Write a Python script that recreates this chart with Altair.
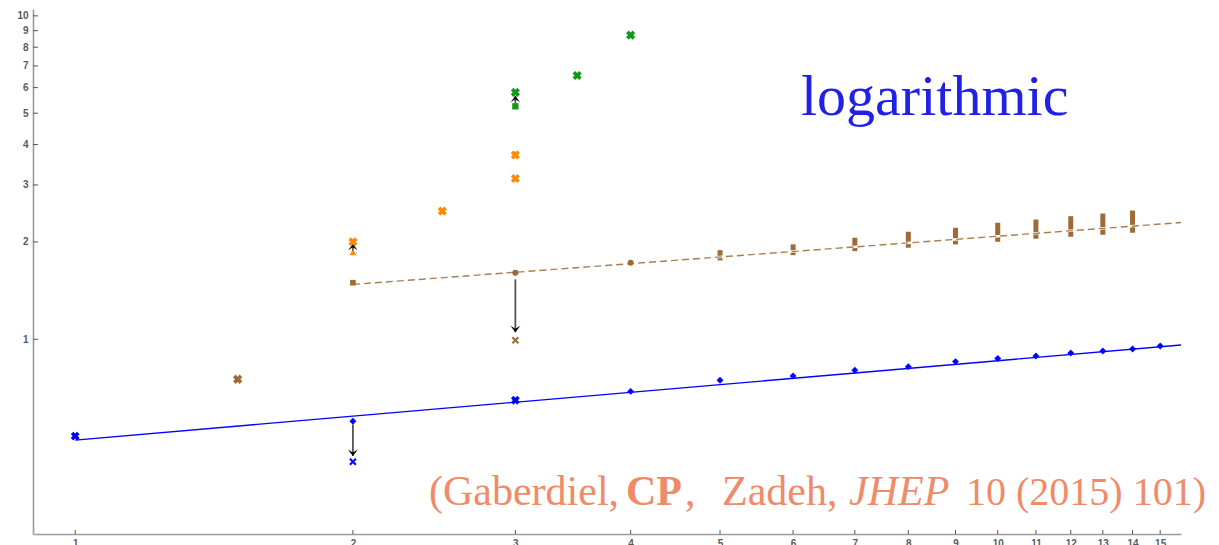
import altair as alt
import pandas as pd

# ---------------- data ----------------
# blue series
blue_line_x = [1, 15.8]
blue_line_y = [0.488, 0.960]
blue_dia_x = [2, 4, 5, 6, 7, 8, 9, 10, 11, 12, 13, 14, 15]
blue_dia_y = [0.558, 0.690, 0.747, 0.770, 0.802, 0.823, 0.853, 0.872, 0.888, 0.907, 0.920, 0.933, 0.953]
blue_cross_x = [1, 3]
blue_cross_y = [0.502, 0.648]
blue_thin_x = [2]
blue_thin_y = [0.418]

# brown series
brown_line_x = [2, 15.8]
brown_line_y = [1.478, 2.296]
brown_cross_x = [1.5]
brown_cross_y = [0.752]
brown_sq_x = [2]
brown_sq_y = [1.496]
brown_dot_x = [3, 4]
brown_dot_y = [1.607, 1.725]
brown_thin_x = [3]
brown_thin_y = [0.993]
brown_bar_x = [5, 6, 7, 8, 9, 10, 11, 12, 13, 14]
brown_bar_lo = [1.753, 1.820, 1.873, 1.919, 1.965, 2.002, 2.046, 2.075, 2.104, 2.135]
brown_bar_hi = [1.886, 1.965, 2.060, 2.150, 2.212, 2.293, 2.346, 2.402, 2.448, 2.501]

# orange series
orange_cross_x = [2, 2.5, 3, 3]
orange_cross_y = [2.0, 2.49, 3.14, 3.715]
orange_tri_x = [2]
orange_tri_y = [1.856]

# green series
green_cross_x = [3, 3.5, 4]
green_cross_y = [5.80, 6.54, 8.72]
green_sq_x = [3]
green_sq_y = [5.25]

# arrows (from -> tip)
arrow_x = [2, 3, 3, 2]
arrow_from = [0.545, 1.532, 5.30, 1.87]
arrow_to = [0.4355, 1.051, 5.65, 1.97]

# axis ticks
x_ticks = list(range(1, 16))
y_ticks = list(range(1, 11))

# ---------------- styling ----------------
W, H = 1148, 525
BLUE = "#0000ff"
BROWN = "#9e6a35"
BROWN_LINE = "#a8804f"
ORANGE = "#ff8a00"
GREEN = "#0f9a1a"
SALMON = "#ef8b68"

xs = alt.Scale(type="log", domain=[0.9, 15.8], nice=False)
ys = alt.Scale(type="log", domain=[0.25, 10.5], nice=False)

common_axis = dict(
    ticks=False, tickSize=0, grid=False, title=None,
    domainColor="#9a9a9a", domainWidth=1.6,
    labelColor="#5a5a5a", labelFont="Liberation Sans", labelFontSize=10,
    labelFontWeight="bold", labelOverlap=False, labelFlush=False, format="d",
)
xaxis = alt.Axis(values=x_ticks, labelPadding=4, **common_axis)
yaxis = alt.Axis(values=y_ticks, labelPadding=5, **common_axis)


def X():
    return alt.X("x:Q", scale=xs, axis=xaxis)


def Y():
    return alt.Y("y:Q", scale=ys, axis=yaxis)


def pts(xv, yv, shape, color, size, filled=True, angle=None, sw=None):
    df = pd.DataFrame({"x": xv, "y": yv})
    kw = dict(shape=shape, filled=filled, size=size, color=color, opacity=1)
    if angle is not None:
        kw["angle"] = angle
    if sw is not None:
        kw["strokeWidth"] = sw
    return alt.Chart(df).mark_point(**kw).encode(x=X(), y=Y())


def line(xv, yv, color, width, dash=None):
    df = pd.DataFrame({"x": xv, "y": yv})
    kw = dict(color=color, strokeWidth=width)
    if dash is not None:
        kw["strokeDash"] = dash
    return alt.Chart(df).mark_line(**kw).encode(x=X(), y=Y())


THIN_X = "M-1,-1L1,1M-1,1L1,-1"
HEAD_DOWN = "M-1,-1.3L0,0L1,-1.3L0,-0.7Z"
HEAD_UP = "M-1,1.3L0,0L1,1.3L0,0.7Z"

layers = []

# axis ticks (inward)
layers.append(
    alt.Chart(pd.DataFrame({"y": y_ticks})).mark_rule(color="#555", strokeWidth=1)
    .encode(y=Y(), x=alt.value(0), x2=alt.value(5))
)
layers.append(
    alt.Chart(pd.DataFrame({"x": x_ticks})).mark_rule(color="#555", strokeWidth=1)
    .encode(x=X(), y=alt.value(H), y2=alt.value(H - 4))
)

# brown bars
bars = pd.DataFrame({"x": brown_bar_x, "y": brown_bar_lo, "y2": brown_bar_hi})
layers.append(
    alt.Chart(bars).mark_rule(color=BROWN, strokeWidth=5)
    .encode(x=X(), y=Y(), y2="y2:Q")
)

# lines
layers.append(line(brown_line_x, brown_line_y, "white", 2.5))
layers.append(line(brown_line_x, brown_line_y, BROWN_LINE, 1.4, [7, 4]))
layers.append(line(blue_line_x, blue_line_y, BLUE, 1.3))

# arrows
arr = pd.DataFrame({"x": arrow_x, "y": arrow_from, "y2": arrow_to})
layers.append(
    alt.Chart(arr).mark_rule(color="#555555", strokeWidth=1.8)
    .encode(x=X(), y=Y(), y2="y2:Q")
)
down = arr[arr["y2"] < arr["y"]]
up = arr[arr["y2"] > arr["y"]]
layers.append(pts(list(down["x"]), list(down["y2"]), HEAD_DOWN, "black", 100))
layers.append(pts(list(up["x"]), list(up["y2"]), HEAD_UP, "black", 90))

# markers
layers.append(pts(blue_dia_x, blue_dia_y, "diamond", BLUE, 48))
layers.append(pts(blue_cross_x, blue_cross_y, "cross", BLUE, 80, angle=45))
layers.append(pts(blue_thin_x, blue_thin_y, THIN_X, BLUE, 36, filled=False, sw=2))
layers.append(pts(brown_cross_x, brown_cross_y, "cross", BROWN, 90, angle=45))
layers.append(pts(brown_sq_x, brown_sq_y, "square", BROWN, 32))
layers.append(pts(brown_dot_x, brown_dot_y, "circle", BROWN, 36))
layers.append(pts(brown_thin_x, brown_thin_y, THIN_X, BROWN, 36, filled=False, sw=2))
layers.append(pts(orange_tri_x, orange_tri_y, "triangle-up", ORANGE, 45))
layers.append(pts(orange_cross_x, orange_cross_y, "cross", ORANGE, 85, angle=45))
layers.append(pts(green_sq_x, green_sq_y, "square", GREEN, 40))
layers.append(pts(green_cross_x, green_cross_y, "cross", GREEN, 85, angle=45))

# annotations
one = pd.DataFrame({"a": [0]})


def txt(s, x, y, size, color, weight="normal", style="normal"):
    return alt.Chart(one).mark_text(
        text=s, align="left", baseline="alphabetic", font="Liberation Serif",
        fontSize=size, color=color, fontWeight=weight, fontStyle=style,
    ).encode(x=alt.value(x), y=alt.value(y))


layers.append(txt("logarithmic", 768, 106, 58, "#2020e6"))
BASE = 496
FS = 42
layers.append(txt("(Gaberdiel,", 396, BASE, FS, SALMON))
layers.append(txt("CP", 593, BASE, FS, SALMON, weight="bold"))
layers.append(txt(",", 652, BASE, FS, SALMON))
layers.append(txt("Zadeh,", 689, BASE, FS, SALMON))
layers.append(txt("JHEP", 816, BASE, FS, SALMON, style="italic"))
layers.append(txt("10 (2015) 101)", 933, BASE, 40, SALMON))

chart = alt.layer(*layers).properties(
    width=W, height=H,
    padding={"left": 25, "top": 1, "right": 30, "bottom": 12},
    autosize=alt.AutoSizeParams(type="none"),
).configure_view(stroke=None)

chart.save("out.html", embed_options={"renderer": "svg", "actions": False})
